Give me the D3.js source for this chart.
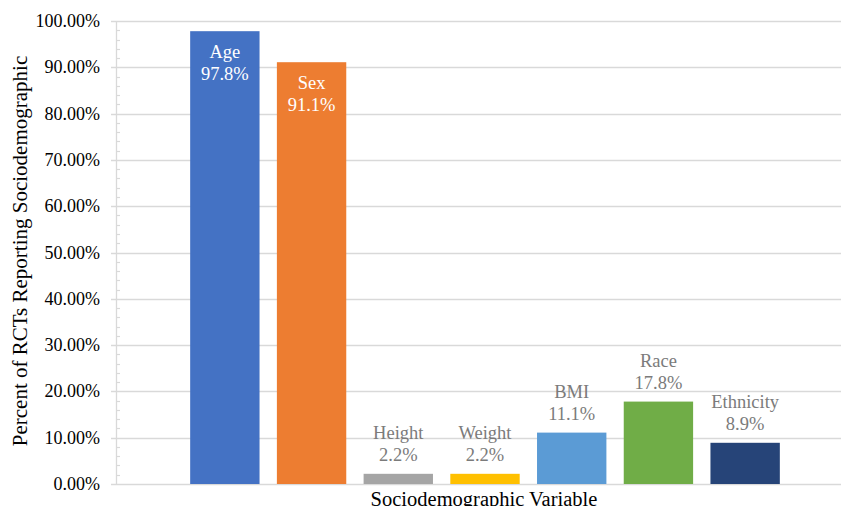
<!DOCTYPE html>
<html lang="en">
<head>
<meta charset="UTF-8" />
<title>Sociodemographic reporting</title>
<script src="https://d3js.org/d3.v7.min.js"></script>
<style>
  body { margin: 0; background: #fff; }
  svg text { font-family: "Liberation Serif", "DejaVu Serif", serif; }
</style>
</head>
<body>
<svg id="chart" width="843" height="506"></svg>
<script>
/* ---------- data ---------- */
const categories = ["Age", "Sex", "Height", "Weight", "BMI", "Race", "Ethnicity"];
const values = [97.8, 91.1, 2.2, 2.2, 11.1, 17.8, 8.9];
const colors = ["#4472c4", "#ed7d31", "#a5a5a5", "#ffc000", "#5b9bd5", "#70ad47", "#264478"];
const insideLabel = [true, true, false, false, false, false, false];
const yTicks = [0, 10, 20, 30, 40, 50, 60, 70, 80, 90, 100];

/* ---------- layout ---------- */
const svg = d3.select("#chart");
const plot = { left: 116, right: 841, top: 21, bottom: 484 };
const serif = "'Liberation Serif', 'DejaVu Serif', serif";

const x = d3.scaleBand()
  .domain(categories)
  .range([181.5, 788.5])
  .paddingInner(0.2)
  .paddingOuter(0.1);

const y = d3.scaleLinear()
  .domain([0, 100])
  .range([plot.bottom, plot.top]);

/* ---------- grid + axis ---------- */
svg.append("g")
  .selectAll("line")
  .data(yTicks)
  .join("line")
  .attr("x1", plot.left - 5)
  .attr("x2", plot.right)
  .attr("y1", d => Math.round(y(d)) + 0.5)
  .attr("y2", d => Math.round(y(d)) + 0.5)
  .attr("stroke", "#d9d9d9")
  .attr("stroke-width", 1.3);

// minor ticks every 2%
svg.append("g")
  .selectAll("line")
  .data(d3.range(0, 100, 2).filter(d => d % 10 !== 0))
  .join("line")
  .attr("x1", plot.left)
  .attr("x2", plot.left + 4)
  .attr("y1", d => Math.round(y(d)) + 0.5)
  .attr("y2", d => Math.round(y(d)) + 0.5)
  .attr("stroke", "#d9d9d9")
  .attr("stroke-width", 1.2);

svg.append("line")
  .attr("x1", plot.left + 0.5)
  .attr("x2", plot.left + 0.5)
  .attr("y1", plot.top)
  .attr("y2", plot.bottom)
  .attr("stroke", "#d9d9d9")
  .attr("stroke-width", 1.3);

svg.append("g")
  .selectAll("text")
  .data(yTicks)
  .join("text")
  .attr("x", plot.left - 16)
  .attr("y", d => y(d) + 6)
  .attr("text-anchor", "end")
  .attr("font-family", serif)
  .attr("font-size", 18)
  .attr("fill", "#000")
  .text(d => d.toFixed(2) + "%");

/* ---------- bars ---------- */
svg.append("g")
  .selectAll("rect")
  .data(categories)
  .join("rect")
  .attr("x", d => x(d))
  .attr("width", x.bandwidth())
  .attr("y", (d, i) => y(values[i]))
  .attr("height", (d, i) => y(0) - y(values[i]))
  .attr("fill", (d, i) => colors[i]);

/* ---------- data labels ---------- */
const labels = svg.append("g")
  .selectAll("text")
  .data(categories)
  .join("text")
  .attr("text-anchor", "middle")
  .attr("font-family", serif)
  .attr("font-size", 18.5)
  .attr("fill", (d, i) => insideLabel[i] ? "#fff" : "#7b7b7b");

labels.append("tspan")
  .attr("x", d => x(d) + x.bandwidth() / 2)
  .attr("y", (d, i) => insideLabel[i] ? y(values[i]) + 27 : y(values[i]) - 35)
  .text(d => d);

labels.append("tspan")
  .attr("x", d => x(d) + x.bandwidth() / 2)
  .attr("y", (d, i) => insideLabel[i] ? y(values[i]) + 49 : y(values[i]) - 13)
  .text((d, i) => values[i].toFixed(1) + "%");

/* ---------- axis titles ---------- */
svg.append("text")
  .attr("transform", "translate(27,251) rotate(-90)")
  .attr("text-anchor", "middle")
  .attr("font-family", serif)
  .attr("font-size", 21)
  .text("Percent of RCTs Reporting Sociodemographic");

svg.append("text")
  .attr("x", 484)
  .attr("y", 506)
  .attr("text-anchor", "middle")
  .attr("font-family", serif)
  .attr("font-size", 20.5)
  .text("Sociodemographic Variable");
</script>
</body>
</html>
